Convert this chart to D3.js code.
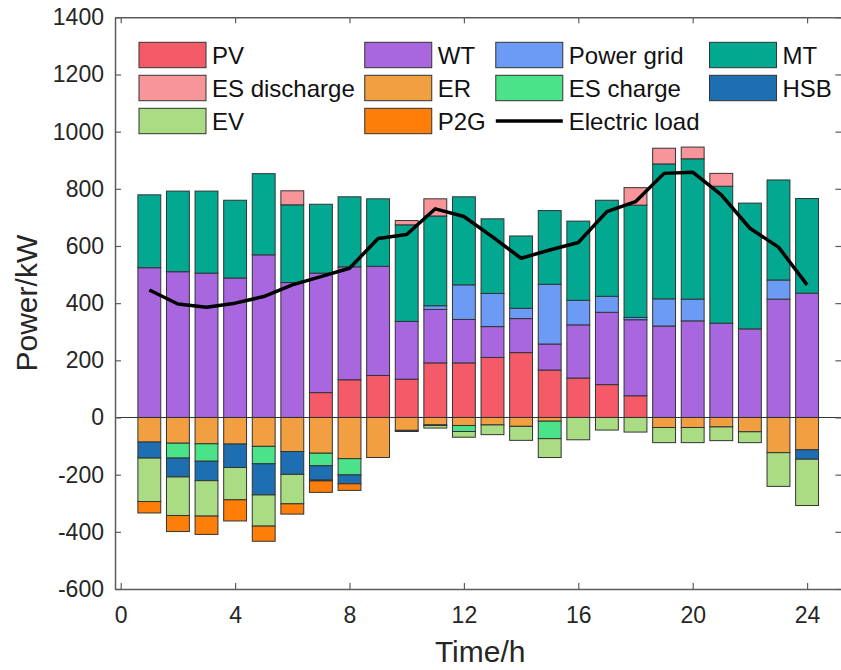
<!DOCTYPE html>
<html>
<head>
<meta charset="utf-8">
<script src="https://cdn.jsdelivr.net/npm/d3@7/dist/d3.min.js"></script>
<style>
  html, body { margin: 0; padding: 0; background: #fff; }
  svg { display: block; font-family: "Liberation Sans", Arial, Helvetica, sans-serif; }
</style>
</head>
<body>
<svg id="chart" width="841" height="670"></svg>
<script>
// Hourly electric power balance (kW)
const hours = d3.range(1, 25);

// Supply side (stacked upward)
const pv    = [0,0,0,0,0,0,87,132,147,134,191,191,210,227,166,138,115,76,0,0,0,0,0,0];
const wt    = [524,510,505,488,569,472,418,395,382,202,187,152,108,119,91,186,253,266,320,338,330,310,414,435];
const grid  = [0,0,0,0,0,0,0,0,0,0,13,121,116,36,209,86,56,8,95,76,0,0,67,0];
const mt    = [255,282,287,272,284,272,241,245,236,338,314,308,261,253,258,277,336,393,472,491,479,440,350,331];
const esDis = [0,0,0,0,0,49,0,0,0,15,60,0,0,0,0,0,0,61,55,41,45,0,0,0];

// Consumption side (stacked downward)
const er    = [-86,-90,-92,-93,-101,-119,-125,-144,-140,-45,-26,-28,-26,-31,-13,0,0,0,-35,-35,-33,-50,-123,-113];
const esCh  = [0,-52,-61,0,-61,0,-44,-57,0,0,0,-21,0,0,-61,0,0,0,0,0,0,0,0,0];
const hsb   = [-56,-66,-68,-82,-109,-80,-50,-31,0,-4,-2,0,0,0,0,0,0,0,0,0,0,0,0,-33];
const ev    = [-152,-135,-124,-113,-109,-103,-3,0,0,0,-9,-20,-34,-49,-66,-78,-44,-51,-53,-53,-48,-38,-118,-162];
const p2g   = [-40,-56,-64,-74,-53,-36,-40,-23,0,0,0,0,0,0,0,0,0,0,0,0,0,0,0,0];

// Electric load curve
const load  = [446,397,386,400,423,464,493,522,626,640,730,703,632,557,586,612,720,755,854,858,779,662,596,464];

const xTicks = [0,4,8,12,16,20,24];
const yTicks = [-600,-400,-200,0,200,400,600,800,1000,1200,1400];

const series = [
  { name: "PV",           values: pv,    color: "#F55A69" },
  { name: "WT",           values: wt,    color: "#A866DF" },
  { name: "Power grid",   values: grid,  color: "#6C9BF6" },
  { name: "MT",           values: mt,    color: "#02A990" },
  { name: "ES discharge", values: esDis, color: "#F8959A" },
  { name: "ER",           values: er,    color: "#F19F40" },
  { name: "ES charge",    values: esCh,  color: "#4BE38A" },
  { name: "HSB",          values: hsb,   color: "#1D6FB1" },
  { name: "EV",           values: ev,    color: "#AADC83" },
  { name: "P2G",          values: p2g,   color: "#FD7F0A" }
];

const svg = d3.select("#chart");
const plotL = 115, plotR = 841.4, plotT = 17.3, plotB = 589;

const x = d3.scaleLinear().domain([-0.2, 25.2]).range([plotL, plotR]);
const y = d3.scaleLinear().domain([-600, 1400]).range([plotB, plotT]);
const barW = x(0.8) - x(0);

svg.append("rect").attr("x", 0).attr("y", 0).attr("width", 841).attr("height", 670).attr("fill", "#fff");

// Stacked bars: positives build upward from zero, negatives downward
const segs = [];
hours.forEach((h, i) => {
  let pos = 0, neg = 0;
  series.forEach(s => {
    const v = s.values[i];
    if (v > 0) { segs.push({ h, y0: pos, y1: pos + v, color: s.color }); pos += v; }
    else if (v < 0) { segs.push({ h, y0: neg + v, y1: neg, color: s.color }); neg += v; }
  });
});

svg.append("g").selectAll("rect").data(segs).join("rect")
  .attr("x", d => x(d.h) - barW / 2)
  .attr("width", barW)
  .attr("y", d => y(d.y1))
  .attr("height", d => y(d.y0) - y(d.y1))
  .attr("fill", d => d.color)
  .attr("stroke", "#333")
  .attr("stroke-width", 1);

// Zero baseline
svg.append("line")
  .attr("x1", plotL).attr("x2", plotR)
  .attr("y1", y(0)).attr("y2", y(0))
  .attr("stroke", "#333").attr("stroke-width", 1);

// Load curve
svg.append("path")
  .datum(load)
  .attr("fill", "none")
  .attr("stroke", "#000")
  .attr("stroke-width", 3.5)
  .attr("stroke-linejoin", "round")
  .attr("d", d3.line().x((d, i) => x(hours[i])).y(d => y(d)));

// Axes (ticks point inward, box on all four sides)
const axisColor = "#5c5c5c";
const textColor = "#262626";
const plain = d => String(d);
function styleAxis(g) {
  g.select(".domain").attr("stroke", axisColor).attr("stroke-width", 1.5);
  g.selectAll(".tick line").attr("stroke", axisColor).attr("stroke-width", 1.2);
  g.selectAll(".tick text").attr("fill", textColor).style("font-size", "23px")
    .style("font-family", "'Liberation Sans', Arial, sans-serif");
}

svg.append("g").attr("transform", `translate(0,${plotB})`)
  .call(d3.axisBottom(x).tickValues(xTicks).tickFormat(plain).tickSizeInner(-6).tickSizeOuter(0).tickPadding(18))
  .call(styleAxis);
svg.append("g").attr("transform", `translate(0,${plotT})`)
  .call(d3.axisTop(x).tickValues(xTicks).tickSizeInner(-6).tickSizeOuter(0).tickFormat(""))
  .call(styleAxis);
svg.append("g").attr("transform", `translate(${plotL},0)`)
  .call(d3.axisLeft(y).tickValues(yTicks).tickFormat(plain).tickSizeInner(-6).tickSizeOuter(0).tickPadding(11))
  .call(styleAxis);
svg.append("g").attr("transform", `translate(${plotR},0)`)
  .call(d3.axisRight(y).tickValues(yTicks).tickSizeInner(-6).tickSizeOuter(0).tickFormat(""))
  .call(styleAxis);

// Axis titles
svg.append("text")
  .attr("x", (plotL + plotR) / 2 + 2).attr("y", 661.5)
  .attr("text-anchor", "middle")
  .attr("fill", textColor).style("font-size", "30px")
  .text("Time/h");
svg.append("text")
  .attr("transform", `translate(37,${(plotT + plotB) / 2}) rotate(-90)`)
  .attr("text-anchor", "middle")
  .attr("fill", textColor).style("font-size", "30px")
  .text("Power/kW");

// Legend: four columns, filled row by row
const legendItems = series.map(s => ({ name: s.name, color: s.color, type: "rect" }))
  .concat([{ name: "Electric load", type: "line" }]);
const nCols = 4, rowH = 33, rectW = 67, rectH = 25.4, textGap = 6;
const legend = svg.append("g");
const measure = legend.append("text").style("font-size", "24px");
const colWidths = d3.range(nCols).map(c => d3.max(legendItems.filter((d, i) => i % nCols === c),
  d => { measure.text(d.name); return measure.node().getComputedTextLength(); }));
measure.remove();
const colX = [139];
for (let c = 1; c < nCols; c++) colX.push(colX[c - 1] + rectW + textGap + colWidths[c - 1] + 10);

legendItems.forEach((d, i) => {
  const cx = colX[i % nCols];
  const cy = 42.3 + Math.floor(i / nCols) * rowH;
  const g = legend.append("g");
  if (d.type === "rect") {
    g.append("rect").attr("x", cx).attr("y", cy).attr("width", rectW).attr("height", rectH)
      .attr("fill", d.color).attr("stroke", "#333").attr("stroke-width", 1);
  } else {
    g.append("line").attr("x1", cx).attr("x2", cx + rectW)
      .attr("y1", cy + rectH / 2).attr("y2", cy + rectH / 2)
      .attr("stroke", "#000").attr("stroke-width", 3.5);
  }
  g.append("text").attr("x", cx + rectW + textGap).attr("y", cy + rectH / 2)
    .attr("dy", "0.36em").attr("fill", "#111").style("font-size", "24px")
    .text(d.name);
});
</script>
</body>
</html>
